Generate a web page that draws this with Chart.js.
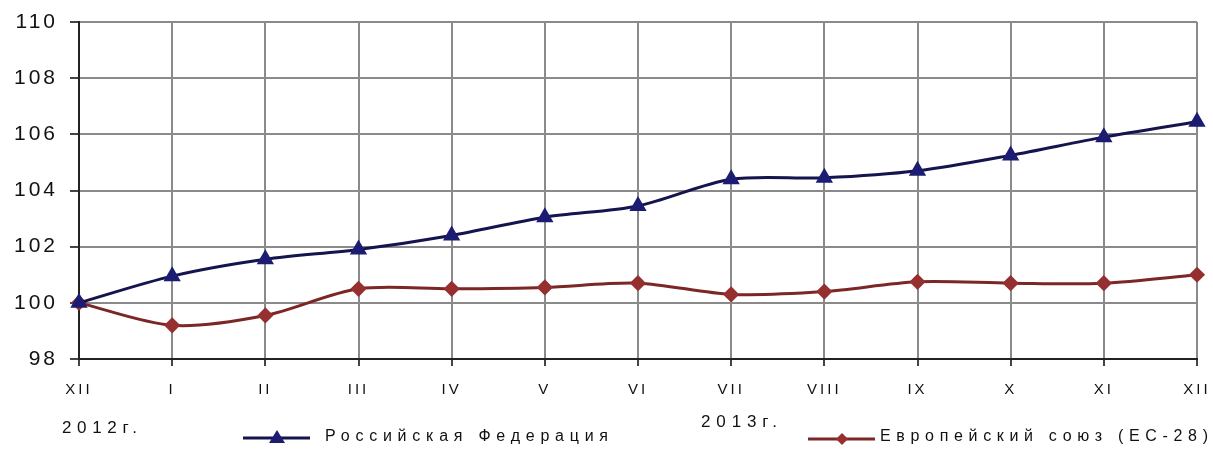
<!DOCTYPE html>
<html lang="ru">
<head>
  <meta charset="UTF-8" />
  <script src="https://cdn.jsdelivr.net/npm/chart.js"></script>
  <title>Индекс</title>
  <style>
    body { margin: 0; padding: 0; background: #fff; }
    .wrap { width: 1213px; height: 452px; position: relative; }
  </style>
</head>
<body>
  <div class="wrap"><canvas id="chart"></canvas></div>

  <script>
    const months = ['XII', 'I', 'II', 'III', 'IV', 'V', 'VI', 'VII', 'VIII', 'IX', 'X', 'XI', 'XII'];
    const russia = [100, 100.95, 101.55, 101.9, 102.4, 103.05, 103.45, 104.4, 104.45, 104.7, 105.25, 105.9, 106.45];
    const eu = [100, 99.2, 99.55, 100.5, 100.5, 100.55, 100.7, 100.3, 100.4, 100.75, 100.7, 100.7, 101.0];
    const yearLabels = ['2012г.', '2013г.'];
    const seriesNames = ['Российская Федерация', 'Европейский союз (ЕС-28)'];

    const FONT = '"Liberation Sans", Arial, sans-serif';
    const RU_LINE = '#14144e';
    const RU_MARK = '#1c1c72';
    const EU_LINE = '#7c2626';
    const EU_MARK = '#963030';

    // text with spacing stretched to a given width (the source image is wide)
    function spacedText(ctx, text, x, y, width) {
      ctx.letterSpacing = '0px';
      const w = ctx.measureText(text).width;
      const gap = Math.max(0, (width - w) / (text.length - 1));
      ctx.letterSpacing = gap + 'px';
      ctx.fillText(text, x, y);
      ctx.letterSpacing = '0px';
    }

    const extras = {
      id: 'extras',
      beforeDraw(chart) {
        chart.ctx.letterSpacing = '3px';
      },
      afterDraw(chart) {
        const ctx = chart.ctx;
        ctx.save();
        ctx.fillStyle = '#111';
        ctx.textBaseline = 'middle';
        ctx.textAlign = 'left';
        ctx.font = '17px ' + FONT;
        spacedText(ctx, yearLabels[0], 62, 428, 75);
        spacedText(ctx, yearLabels[1], 701, 422, 76);

        // legend: Russia
        ctx.lineWidth = 3;
        ctx.strokeStyle = RU_LINE;
        ctx.beginPath(); ctx.moveTo(243, 438); ctx.lineTo(310, 438); ctx.stroke();
        ctx.fillStyle = RU_MARK;
        ctx.beginPath(); ctx.moveTo(277, 430); ctx.lineTo(285, 443); ctx.lineTo(269, 443); ctx.closePath(); ctx.fill();
        ctx.fillStyle = '#111';
        ctx.font = '16px ' + FONT;
        spacedText(ctx, seriesNames[0], 325, 437, 283);

        // legend: EU
        ctx.strokeStyle = EU_LINE;
        ctx.beginPath(); ctx.moveTo(808, 439); ctx.lineTo(875, 439); ctx.stroke();
        ctx.fillStyle = EU_MARK;
        ctx.beginPath(); ctx.moveTo(842, 433); ctx.lineTo(848, 439); ctx.lineTo(842, 445); ctx.lineTo(836, 439); ctx.closePath(); ctx.fill();
        ctx.fillStyle = '#111';
        spacedText(ctx, seriesNames[1], 880, 437, 328);
        ctx.restore();
      }
    };

    new Chart(document.getElementById('chart'), {
      type: 'line',
      data: {
        labels: months,
        datasets: [
          {
            label: seriesNames[0],
            data: russia,
            borderColor: RU_LINE,
            backgroundColor: RU_MARK,
            pointBorderColor: RU_MARK,
            borderWidth: 3,
            pointStyle: 'triangle',
            pointRadius: 7,
            tension: 0.3
          },
          {
            label: seriesNames[1],
            data: eu,
            borderColor: EU_LINE,
            backgroundColor: EU_MARK,
            pointBorderColor: EU_MARK,
            borderWidth: 3,
            pointStyle: 'rectRot',
            pointRadius: 6,
            tension: 0.3
          }
        ]
      },
      options: {
        responsive: true,
        maintainAspectRatio: false,
        animation: false,
        layout: { padding: { top: 22, right: 16, left: 0, bottom: 0 } },
        plugins: {
          legend: { display: false },
          tooltip: { enabled: false }
        },
        scales: {
          x: {
            afterFit: (s) => { s.height = 93; s.paddingLeft = 0; s.paddingRight = 0; },
            grid: { color: '#8a8a8a', lineWidth: 2, tickLength: 7, tickColor: '#444' },
            border: { color: '#222', width: 2 },
            ticks: { color: '#111', font: { family: FONT, size: 15 }, padding: 15, maxRotation: 0, autoSkip: false }
          },
          y: {
            min: 98,
            max: 110,
            afterFit: (s) => { s.width = 79; s.paddingTop = 0; s.paddingBottom = 0; },
            grid: { color: '#8a8a8a', lineWidth: 2, tickLength: 9, tickColor: '#444' },
            border: { color: '#222', width: 2 },
            ticks: { stepSize: 2, color: '#111', font: { family: FONT, size: 21 }, padding: 12 }
          }
        }
      },
      plugins: [extras]
    });
  </script>
</body>
</html>
